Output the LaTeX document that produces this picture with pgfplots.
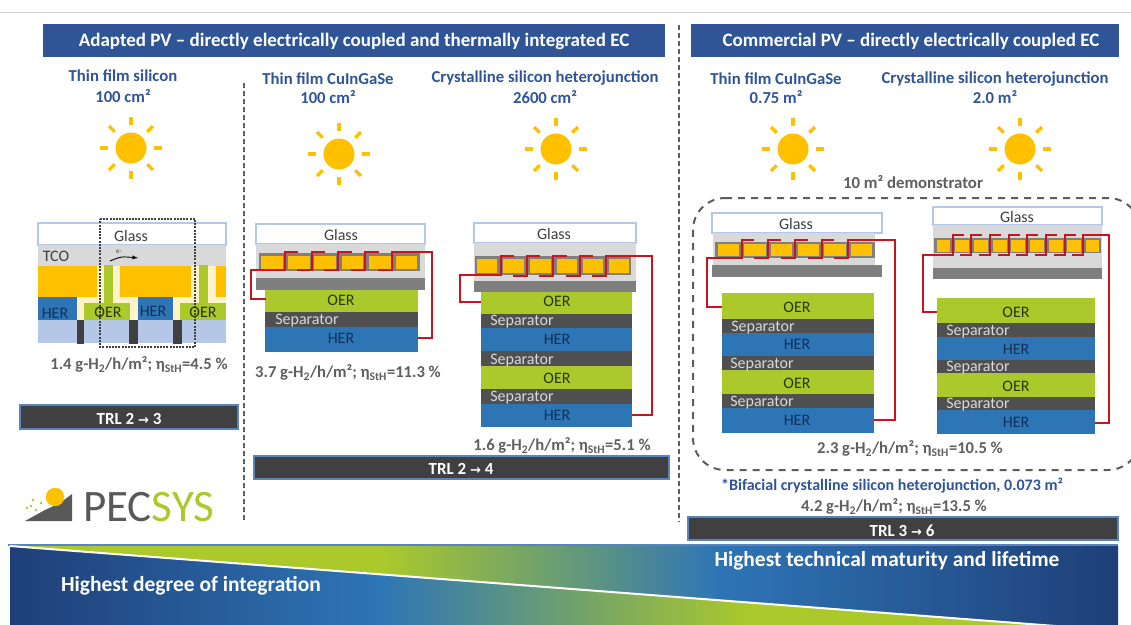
\documentclass[border=0pt]{standalone}
\usepackage{pgfplots}
\pgfplotsset{compat=1.18}
\usepackage{fontspec}
\setmainfont{Carlito}
\newfontfamily\arrowfont{DejaVu Sans}

\definecolor{hdr}{HTML}{2F5597}
\definecolor{txtgrey}{HTML}{5F5F5F}
\definecolor{bardark}{HTML}{404040}
\definecolor{barline}{HTML}{5B84BE}
\definecolor{sepc}{HTML}{505050}
\definecolor{oerc}{HTML}{ABC92B}
\definecolor{herc}{HTML}{2E75B6}
\definecolor{herink}{HTML}{12305A}
\definecolor{oerink}{HTML}{27380F}
\definecolor{glassline}{HTML}{B4C7E7}
\definecolor{tcoc}{HTML}{D9D9D9}
\definecolor{stripc}{HTML}{7F7F7F}
\definecolor{cellc}{HTML}{FFC000}
\definecolor{creamc}{HTML}{FFF2CC}
\definecolor{wirec}{HTML}{C8141E}
\definecolor{navyc}{HTML}{1F3F78}
\definecolor{logogrey}{HTML}{595959}

\pgfdeclarehorizontalshading{upperband}{100bp}{color(0bp)=(navyc); color(25bp)=(oerc); color(41.8bp)=(oerc); color(57bp)=(herc); color(75bp)=(navyc); color(100bp)=(navyc)}
\pgfdeclarehorizontalshading{lowerband}{100bp}{color(0bp)=(navyc); color(25bp)=(navyc); color(41.8bp)=(herc); color(58.7bp)=(oerc); color(71bp)=(oerc); color(75bp)=(navyc); color(100bp)=(navyc)}

\pgfdeclareplotmark{sun}{%
  \pgfpathcircle{\pgfpointorigin}{15.5pt}\pgfusepathqfill
  \pgfsetlinewidth{3.4pt}\pgfsetbuttcap
  \foreach \a in {0,45,...,315}{%
    \pgfpathmoveto{\pgfpointpolar{\a}{23pt}}%
    \pgfpathlineto{\pgfpointpolar{\a}{31pt}}%
    \pgfusepathqstroke}%
}

% box: x0 y0 x1 y1 fill
\newcommand{\Bx}[5]{\addplot[fill=#5,draw=none] coordinates {(#1,#2)(#3,#2)(#3,#4)(#1,#4)} -- cycle;}
% box with outline
\newcommand{\BxL}[6]{\addplot[fill=#5,draw=#6,line width=1.1pt] coordinates {(#1,#2)(#3,#2)(#3,#4)(#1,#4)} -- cycle;}
% one step of the red wire
\tikzset{wire/.style={draw=wirec,line width=2.5pt,line join=miter}}
\newcommand{\Z}[5]{\addplot[wire] coordinates {(#1,#4)(#2,#4)(#2,#5)(#3,#5)};}
\newcommand{\fs}[1]{\fontsize{#1}{#1}\selectfont}
\newcommand{\Tx}[5]{\node[inner sep=0pt,yshift=-0.6pt,text=#4,font=\fs{#3}] at (#1,#2) {#5};}
\newcommand{\Tb}[5]{\node[inner sep=0pt,yshift=-0.6pt,text=#4,font=\fs{#3}\bfseries] at (#1,#2) {#5};}
\newcommand{\Eta}[2]{#1 g-H\textsubscript{2}/h/m²; η\textsubscript{StH}=#2 \%}
\newcommand{\Trl}[2]{TRL #1 {\arrowfont\fs{13}→} #2}

\begin{document}
\begin{tikzpicture}
\begin{axis}[
  hide axis, scale only axis, width=1131pt, height=624pt,
  xmin=0, xmax=1131, ymin=0, ymax=624, y dir=reverse,
  enlargelimits=false,
]
\Bx{0}{0}{1131}{630}{white}
\addplot[black!18,line width=0.8pt] coordinates {(0,12)(1131,12)};

% headers
\BxL{44}{25}{664}{56}{hdr}{hdr}
\BxL{692}{25}{1118}{56}{hdr}{hdr}
\Tb{354}{41}{19}{white}{Adapted PV – directly electrically coupled and thermally integrated EC}
\Tb{911}{41}{19}{white}{Commercial PV – directly electrically coupled EC}

% dividers
\addplot[txtgrey,line width=1.3pt,dash pattern=on 5pt off 3pt] coordinates {(244,83)(244,522)};
\addplot[txtgrey,line width=1.3pt,dash pattern=on 5pt off 3pt] coordinates {(679,25)(679,522)};

% column titles
\Tb{123}{75}{16.7}{hdr}{Thin film silicon}
\Tb{123}{95}{16.7}{hdr}{100 cm²}
\Tb{328}{78}{16.7}{hdr}{Thin film CuInGaSe}
\Tb{328}{96}{16.7}{hdr}{100 cm²}
\Tb{545}{77}{16.7}{hdr}{Crystalline silicon heterojunction}
\Tb{545}{96}{16.7}{hdr}{2600 cm²}
\Tb{776}{78}{16.7}{hdr}{Thin film CuInGaSe}
\Tb{776}{96}{16.7}{hdr}{0.75 m²}
\Tb{995}{78}{16.7}{hdr}{Crystalline silicon heterojunction}
\Tb{995}{96}{16.7}{hdr}{2.0 m²}

% suns
\addplot[only marks,mark=sun,mark options={fill=cellc,draw=cellc}] coordinates {(131,148)(339,154)(556,149)(793,149)(1020,149)};

% --- monolithic stack, left
\BxL{38}{223}{226}{245}{white}{glassline}
\Bx{38}{245}{226}{266}{tcoc}
\Bx{38}{266}{226}{297}{creamc}
\Bx{38}{297}{226}{320}{creamc}
\Bx{38}{266}{97}{297}{cellc}
\Bx{120}{266}{191}{297}{cellc}
\Bx{216}{266}{226}{297}{cellc}
\Bx{104}{265}{113}{304}{oerc}
\Bx{199}{265}{208}{304}{oerc}
\Bx{38}{297}{77}{320}{herc}
\Bx{138}{297}{173}{320}{herc}
\Bx{84}{303}{130}{320}{oerc}
\Bx{180}{303}{226}{320}{oerc}
\Bx{38}{320}{226}{343}{glassline}
\Bx{77}{320}{84}{344}{bardark}
\Bx{129}{320}{138}{344}{bardark}
\Bx{173}{320}{182}{344}{bardark}
\addplot[bardark,line width=1.1pt,dash pattern=on 2pt off 1.2pt] coordinates {(100,219)(195,219)(195,347)(100,347)} -- cycle;
\addplot[black,line width=0.9pt,smooth,-latex] coordinates {(110,261)(122,257)(138,258)};
\Tx{119}{251}{7}{bardark}{e-}
\Tx{131}{235}{16}{bardark}{Glass}
\Tx{56}{256}{16}{bardark}{TCO}
\Tx{55}{313}{16}{herink}{HER}
\Tx{108}{312}{16}{oerink}{OER}
\Tx{153}{311}{16}{herink}{HER}
\Tx{203}{312}{16}{oerink}{OER}
\Tb{139}{364}{16.6}{txtgrey}{\Eta{1.4}{4.5}}
\BxL{20}{405}{238}{429}{bardark}{barline}
\Tb{129}{418}{17}{white}{\Trl{2}{3}}

% --- stack A: thin film CuInGaSe 100 cm2
\BxL{256}{224}{425}{244}{white}{glassline}
\Bx{256}{244}{425}{278}{tcoc}
\Bx{256}{278}{425}{290}{stripc}
\Bx{259}{253}{420}{271}{stripc}
\Bx{261}{256}{283}{269}{cellc}
\Bx{288}{256}{310}{269}{cellc}
\Bx{314}{256}{336}{269}{cellc}
\Bx{342}{256}{363}{269}{cellc}
\Bx{369}{256}{391}{269}{cellc}
\Bx{396}{256}{417}{269}{cellc}
\Bx{265}{290}{418}{312}{oerc}
\Bx{265}{312}{418}{327}{sepc}
\Bx{265}{327}{418}{352}{herc}
\addplot[wire] coordinates {(266,299)(251,299)(251,270)(285,270)(285,252)(298,252)};
\Z{297}{312}{325}{270}{252}
\Z{324}{338}{352}{270}{252}
\Z{351}{365}{379}{270}{252}
\addplot[wire] coordinates {(378,270)(392,270)(392,252)(432,252)(432,338)(418,338)};
\Tx{341}{234}{16}{bardark}{Glass}
\Tx{341}{300}{16}{oerink}{OER}
\Tx{307}{320}{16}{tcoc}{Separator}
\Tx{341}{338}{16}{herink}{HER}
\Tb{348}{372}{16.6}{txtgrey}{\Eta{3.7}{11.3}}

% --- stack B: heterojunction 2600 cm2
\BxL{474}{223}{636}{243}{white}{glassline}
\Bx{474}{243}{636}{281}{tcoc}
\Bx{474}{281}{636}{292}{stripc}
\Bx{475}{256}{631}{275}{stripc}
\Bx{477}{259}{497}{273}{cellc}
\Bx{503}{259}{524}{273}{cellc}
\Bx{530}{259}{551}{273}{cellc}
\Bx{557}{259}{577}{273}{cellc}
\Bx{583}{259}{603}{273}{cellc}
\Bx{609}{259}{629}{273}{cellc}
\Bx{481}{292}{632}{314}{oerc}
\Bx{481}{314}{632}{328}{sepc}
\Bx{481}{328}{632}{351}{herc}
\Bx{481}{351}{632}{366}{sepc}
\Bx{481}{366}{632}{389}{oerc}
\Bx{481}{389}{632}{404}{sepc}
\Bx{481}{404}{632}{427}{herc}
\addplot[wire] coordinates {(481,302)(460,302)(460,275)(501,275)(501,256)(514,256)};
\Z{513}{527}{540}{276}{256}
\Z{539}{553}{567}{276}{256}
\Z{566}{580}{593}{276}{256}
\addplot[wire] coordinates {(592,276)(606,276)(606,256)(652,256)(652,415)(632,415)};
\Tx{554}{233}{16}{bardark}{Glass}
\Tx{557}{301}{16}{oerink}{OER}
\Tx{522}{321}{16}{tcoc}{Separator}
\Tx{557}{339}{16}{herink}{HER}
\Tx{522}{360}{16}{tcoc}{Separator}
\Tx{557}{378}{16}{oerink}{OER}
\Tx{522}{397}{16}{tcoc}{Separator}
\Tx{557}{415}{16}{herink}{HER}
\Tb{562}{445}{16.6}{txtgrey}{\Eta{1.6}{5.1}}
\BxL{254}{456}{669}{479}{bardark}{barline}
\Tb{461}{468}{17}{white}{\Trl{2}{4}}

% --- demonstrator frame
\addplot[bardark!85,line width=2pt,dash pattern=on 7pt off 6pt,rounded corners=32pt] coordinates {(693,198)(1140,198)(1140,470)(693,470)} -- cycle;
\Tb{913}{181}{16.8}{txtgrey}{10 m² demonstrator}

% --- stack C: CuInGaSe 0.75 m2
\BxL{712}{213}{882}{233}{white}{glassline}
\Bx{713}{233}{875}{265}{tcoc}
\Bx{712}{265}{882}{277}{stripc}
\Bx{715}{242}{875}{258}{stripc}
\Bx{718}{244}{739}{256}{cellc}
\Bx{744}{244}{766}{256}{cellc}
\Bx{771}{244}{792}{256}{cellc}
\Bx{798}{244}{819}{256}{cellc}
\Bx{824}{244}{846}{256}{cellc}
\Bx{851}{244}{872}{256}{cellc}
\Bx{722}{293}{874}{319}{oerc}
\Bx{722}{319}{874}{333}{sepc}
\Bx{722}{333}{874}{356}{herc}
\Bx{722}{356}{874}{370}{sepc}
\Bx{722}{370}{874}{394}{oerc}
\Bx{722}{394}{874}{408}{sepc}
\Bx{722}{408}{874}{433}{herc}
\addplot[wire] coordinates {(722,307)(707,307)(707,258)(742,258)(742,240)(754,240)};
\Z{754}{768}{781}{258}{240}
\Z{781}{795}{808}{258}{240}
\Z{808}{822}{834}{258}{240}
\addplot[wire] coordinates {(834,258)(848,258)(848,240)(895,240)(895,420)(874,420)};
\Tx{796}{223}{16}{bardark}{Glass}
\Tx{797}{307}{16}{oerink}{OER}
\Tx{763}{327}{16}{tcoc}{Separator}
\Tx{797}{344}{16}{herink}{HER}
\Tx{762}{364}{16}{tcoc}{Separator}
\Tx{797}{383}{16}{oerink}{OER}
\Tx{762}{402}{16}{tcoc}{Separator}
\Tx{797}{420}{16}{herink}{HER}

% --- stack D: heterojunction 2.0 m2
\BxL{933}{207}{1102}{225}{white}{glassline}
\Bx{933}{225}{1102}{268}{tcoc}
\Bx{933}{268}{1102}{279}{stripc}
\Bx{934}{238}{1101}{253}{stripc}
\Bx{937}{240}{950}{252}{cellc}
\Bx{955}{240}{969}{252}{cellc}
\Bx{974}{240}{988}{252}{cellc}
\Bx{993}{240}{1007}{252}{cellc}
\Bx{1011}{240}{1025}{252}{cellc}
\Bx{1030}{240}{1044}{252}{cellc}
\Bx{1049}{240}{1063}{252}{cellc}
\Bx{1067}{240}{1081}{252}{cellc}
\Bx{1086}{240}{1099}{252}{cellc}
\Bx{937}{298}{1095}{323}{oerc}
\Bx{937}{323}{1095}{337}{sepc}
\Bx{937}{337}{1095}{360}{herc}
\Bx{937}{360}{1095}{373}{sepc}
\Bx{937}{373}{1095}{397}{oerc}
\Bx{937}{397}{1095}{410}{sepc}
\Bx{937}{410}{1095}{434}{herc}
\addplot[wire] coordinates {(937,312)(923,312)(923,255)(953,255)(953,235)(964,235)};
\Z{960}{971}{982}{255}{235}
\Z{979}{990}{1001}{255}{235}
\Z{998}{1009}{1020}{255}{235}
\Z{1016}{1027}{1038}{255}{235}
\Z{1035}{1046}{1057}{255}{235}
\Z{1054}{1065}{1076}{255}{235}
\addplot[wire] coordinates {(1072,255)(1083,255)(1083,235)(1109,235)(1109,423)(1095,423)};
\Tx{1017}{216}{16}{bardark}{Glass}
\Tx{1016}{312}{16}{oerink}{OER}
\Tx{978}{331}{16}{tcoc}{Separator}
\Tx{1016}{349}{16}{herink}{HER}
\Tx{978}{367}{16}{tcoc}{Separator}
\Tx{1016}{386}{16}{oerink}{OER}
\Tx{978}{404}{16}{tcoc}{Separator}
\Tx{1016}{422}{16}{herink}{HER}

\Tb{910}{448}{16.6}{txtgrey}{\Eta{2.3}{10.5}}
\Tb{892}{485}{16}{hdr}{*Bifacial crystalline silicon heterojunction, 0.073 m²}
\Tb{894}{506}{16.6}{txtgrey}{\Eta{4.2}{13.5}}
\BxL{688}{517}{1118}{540}{bardark}{barline}
\Tb{902}{530}{17}{white}{\Trl{3}{6}}

% --- logo
\addplot[fill=logogrey,draw=none] coordinates {(25,521)(72,521)(72,494)(60,503)(45,510)} -- cycle;
\addplot[only marks,mark=*,mark size=9pt,mark options={fill=cellc,draw=cellc}] coordinates {(55,497)};
\addplot[only marks,mark=*,mark size=1.1pt,mark options={fill=oerc,draw=oerc}] coordinates {(27,508)(33,500)(36,510)(41,503)(31,506)};
\node[inner sep=0pt,anchor=west,font=\fs{45}] at (83,507) {\textcolor{logogrey}{PEC}\textcolor{oerc}{SYS}};

% --- bottom band
\addplot[shade,shading=upperband,draw=none] coordinates {(10,546)(1118,546)(1118,630)(1108,630)} -- cycle;
\addplot[shade,shading=lowerband,draw=none] coordinates {(10,546)(1108,630)(10,630)} -- cycle;
\addplot[barline,line width=1.5pt] coordinates {(8,545)(1118,545)};
\addplot[white,line width=2pt] coordinates {(10,546)(1108,630)};
\Tb{191}{585}{21.5}{white}{Highest degree of integration}
\Tb{887}{560}{21.4}{white}{Highest technical maturity and lifetime}
\end{axis}
\end{tikzpicture}
\end{document}
